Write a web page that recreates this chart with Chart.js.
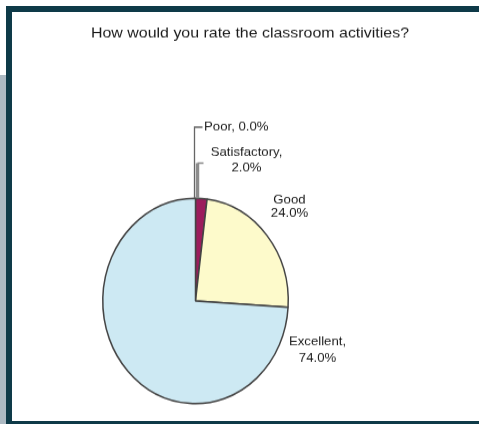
<!DOCTYPE html>
<html>
<head>
<meta charset="utf-8">
<script src="https://cdn.jsdelivr.net/npm/chart.js@4.4.1/dist/chart.umd.min.js"></script>
<style>
  body { margin: 0; background: #fff; width: 479px; height: 424px; position: relative; overflow: hidden; }
  .side { position: absolute; left: 0; top: 75px; width: 6px; height: 349px; background: #adbac3; }
  .bar { position: absolute; background: #0e3a48; }
  #wrap { position: absolute; left: 12px; top: 12px; width: 467px; height: 370px; transform-origin: 0 0; transform: scaleY(1.107); }
</style>
</head>
<body>
<div class="side"></div>
<div class="bar" style="left:6px;top:6px;width:473px;height:6px"></div>
<div class="bar" style="left:6px;top:6px;width:6px;height:418px"></div>
<div class="bar" style="left:6px;top:421px;width:473px;height:3px"></div>
<div id="wrap"><canvas id="chart" width="467" height="370"></canvas></div>
<script>
const title = "How would you rate the classroom activities?";
const categories = ["Poor", "Satisfactory", "Good", "Excellent"];
const percents = [0.0, 2.0, 24.0, 74.0];
// label text lines per slice
const labelLines = [
  ["Poor, 0.0%"],
  ["Satisfactory,", "2.0%"],
  ["Good", "24.0%"],
  ["Excellent,", "74.0%"],
];
const sliceColors = ["#9a9a9a", "#9c1c5c", "#fdfacb", "#cde9f3"];

// label placement relative to pie centre (canvas units), tuned to the picture
const labelSpots = [
  { dx: 8.5, dy: -157, align: "left", gap: 14 },
  { dx: 51, dy: -134.5, align: "center", gap: 14.5 },
  { dx: 94, dy: -91, align: "center", gap: 12 },
  { dx: 122, dy: 37, align: "center", gap: 15 },
];

const textScale = 1.2; // original text is stretched sideways

const pieLabels = {
  id: "pieLabels",
  afterDraw(chart) {
    const ctx = chart.ctx;
    const arcs = chart.getDatasetMeta(0).data;
    const cx = arcs[0].x, cy = arcs[0].y, r = arcs[0].outerRadius;

    // title, fitted to its width in the picture
    ctx.save();
    ctx.font = "13.5px 'Liberation Sans', Arial, sans-serif";
    ctx.fillStyle = "#1a1a1a";
    ctx.textAlign = "center";
    ctx.textBaseline = "middle";
    const tw = ctx.measureText(title).width;
    ctx.translate(238, 19);
    ctx.scale(318 / tw, 1);
    ctx.fillText(title, 0, 0);
    ctx.restore();

    // leader lines for the two thin slices
    ctx.save();
    ctx.strokeStyle = "#8c8c8c";
    ctx.lineWidth = 3.5;
    ctx.beginPath();
    ctx.moveTo(cx + 2, cy - r);
    ctx.lineTo(cx + 2, cy - 124.5);
    ctx.stroke();
    ctx.lineWidth = 1.5;
    ctx.beginPath();
    ctx.moveTo(cx + 2, cy - 124.5);
    ctx.lineTo(cx + 8, cy - 124.5);
    ctx.stroke();
    ctx.strokeStyle = "#666";
    ctx.lineWidth = 1.3;
    ctx.beginPath();
    ctx.moveTo(cx - 1, cy - r);
    ctx.lineTo(cx - 1, cy - 157);
    ctx.lineTo(cx + 7, cy - 157);
    ctx.stroke();
    ctx.restore();

    ctx.save();
    ctx.font = "11px 'Liberation Sans', Arial, sans-serif";
    ctx.fillStyle = "#1a1a1a";
    ctx.textBaseline = "middle";
    labelLines.forEach((lines, i) => {
      const s = labelSpots[i];
      lines.forEach((t, j) => {
        const w = ctx.measureText(t).width * textScale;
        let x = cx + s.dx;
        if (s.align === "center") x -= w / 2;
        ctx.save();
        ctx.translate(x, cy + s.dy + j * s.gap);
        ctx.scale(textScale, 1);
        ctx.fillText(t, 0, 0);
        ctx.restore();
      });
    });
    ctx.restore();
  },
};

new Chart(document.getElementById("chart"), {
  type: "pie",
  data: {
    labels: categories,
    datasets: [
      {
        data: percents,
        backgroundColor: sliceColors,
        borderColor: "#444",
        borderWidth: 1.5,
      },
    ],
  },
  options: {
    responsive: false,
    animation: false,
    layout: { padding: { left: 90, right: 190, top: 167.5, bottom: 15.5 } },
    plugins: {
      legend: { display: false },
      tooltip: { enabled: false },
      title: { display: false },
    },
  },
  plugins: [pieLabels],
});
</script>
</body>
</html>
